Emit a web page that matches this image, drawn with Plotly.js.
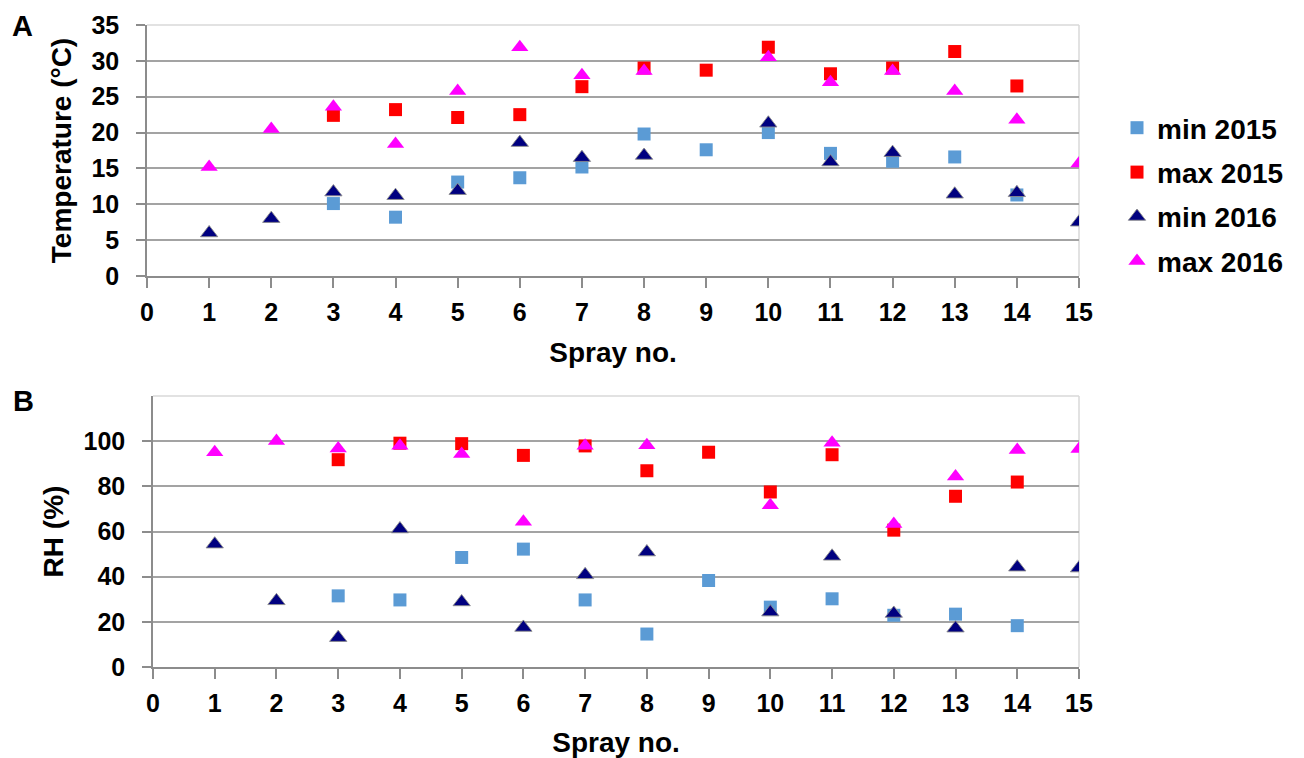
<!DOCTYPE html>
<html>
<head>
<meta charset="utf-8">
<script src="https://cdn.plot.ly/plotly-3.0.1.min.js"></script>
<style>html,body{margin:0;padding:0;background:#fff;}#chart{width:1304px;height:758px;}</style>
</head>
<body>
<div id="chart"></div>
<script>
// Spray numbers
const spray2015 = [3, 4, 5, 6, 7, 8, 9, 10, 11, 12, 13, 14];
const spray2016 = [1, 2, 3, 4, 5, 6, 7, 8, 10, 11, 12, 13, 14, 15];

// Panel A: temperature (°C)
const tempMin2015 = [10.1, 8.2, 13.1, 13.7, 15.2, 19.8, 17.6, 20.0, 17.1, 16.0, 16.6, 11.3];
const tempMax2015 = [22.4, 23.2, 22.1, 22.5, 26.4, 29.0, 28.7, 31.9, 28.2, 29.0, 31.3, 26.5];
const tempMin2016 = [6.0, 8.0, 11.7, 11.2, 11.9, 18.6, 16.5, 16.8, 21.3, 15.9, 17.2, 11.4, 11.6, 7.5];
const tempMax2016 = [15.2, 20.5, 23.6, 18.4, 25.8, 31.9, 28.0, 28.6, 30.5, 27.0, 28.6, 25.8, 21.8, 15.7];

// Panel B: relative humidity (%)
const rhMin2015 = [31.5, 29.7, 48.5, 52.2, 29.7, 14.6, 38.3, 26.5, 30.2, 22.9, 23.4, 18.3];
const rhMax2015 = [91.8, 99.1, 98.9, 93.7, 97.9, 86.9, 95.1, 77.5, 94.0, 60.6, 75.6, 81.9];
const rhMin2016 = [54.4, 29.3, 13.0, 61.1, 28.8, 17.5, 40.8, 50.9, 24.3, 49.0, 23.7, 17.2, 44.2, 43.8];
const rhMax2016 = [95.1, 100.1, 96.8, 98.0, 94.3, 64.3, 98.0, 98.2, 71.6, 99.3, 63.3, 84.3, 96.1, 96.5];

const seriesNames = ["min 2015", "max 2015", "min 2016", "max 2016"];
const xTicks = [0,1,2,3,4,5,6,7,8,9,10,11,12,13,14,15];
const tempTicks = [0,5,10,15,20,25,30,35];
const rhTicks = [0,20,40,60,80,100];

const FONT = "Liberation Sans, Arial, Helvetica, sans-serif";
const styles = [
  {symbol: "square", size: 13, color: "#5B9BD5", line: {width: 0}},
  {symbol: "square", size: 13, color: "#FF0000", line: {width: 0}},
  {symbol: "triangle-up", size: 15, color: "#000080", line: {width: 1, color: "rgba(140,140,140,0.9)"}},
  {symbol: "triangle-up", size: 15, color: "#FF00FF", line: {width: 0}}
];

const topData = [[spray2015, tempMin2015], [spray2015, tempMax2015], [spray2016, tempMin2016], [spray2016, tempMax2016]];
const botData = [[spray2015, rhMin2015], [spray2015, rhMax2015], [spray2016, rhMin2016], [spray2016, rhMax2016]];

const traces = [];
topData.forEach((d, i) => {
  traces.push({x: d[0], y: d[1], type: "scatter", mode: "markers", name: seriesNames[i],
    legendgroup: "g" + i, xaxis: "x", yaxis: "y", marker: styles[i], hoverinfo: "x+y+name"});
});
botData.forEach((d, i) => {
  traces.push({x: d[0], y: d[1], type: "scatter", mode: "markers", name: seriesNames[i],
    legendgroup: "g" + i, showlegend: false, xaxis: "x2", yaxis: "y2", marker: styles[i], hoverinfo: "x+y+name"});
});

const W = 1304, H = 758;
const tickFont = {family: FONT, size: 25, color: "#000", weight: "bold"};
const titleFont = {family: FONT, size: 28, color: "#000", weight: "bold"};
const gridCol = "#a3a3a3", axisCol = "#8c8c8c", borderCol = "#d9d9d9";

function xAxis(domain, standoff) {
  return {domain: domain, range: [0, 15], tickvals: xTicks, ticktext: xTicks.map(String),
    showgrid: false, zeroline: false, showline: true, linecolor: axisCol, linewidth: 1.5,
    ticks: "outside", ticklen: 10, tickwidth: 1.5, tickcolor: axisCol, tickfont: tickFont,
    ticklabelstandoff: 3,
    title: {text: "Spray no.", font: titleFont, standoff: standoff}, fixedrange: true};
}
function yAxis(domain, range, ticks, title) {
  return {domain: domain, range: range, tickvals: ticks, ticktext: ticks.map(String),
    showgrid: true, gridcolor: gridCol, gridwidth: 1.5, zeroline: false,
    showline: true, linecolor: axisCol, linewidth: 1.5,
    ticks: "outside", ticklen: 9, tickwidth: 1.5, tickcolor: axisCol, tickfont: tickFont,
    ticklabelstandoff: 12,
    title: {text: title, font: titleFont, standoff: 12}, fixedrange: true};
}

const layout = {
  width: W, height: H,
  margin: {l: 0, r: 0, t: 0, b: 0},
  paper_bgcolor: "#fff", plot_bgcolor: "#fff",
  xaxis: Object.assign(xAxis([147 / W, 1079 / W], 18), {anchor: "y"}),
  yaxis: Object.assign(yAxis([1 - 276 / H, 1 - 25 / H], [0, 35], tempTicks, "Temperature (°C)"), {anchor: "x"}),
  xaxis2: Object.assign(xAxis([153 / W, 1079 / W], 25), {anchor: "y2"}),
  yaxis2: Object.assign(yAxis([1 - 667 / H, 1 - 396 / H], [0, 120], rhTicks, "RH (%)"), {anchor: "x2"}),
  showlegend: true,
  legend: {x: 1117 / W, y: 1 - 103 / H, xanchor: "left", yanchor: "top",
    font: {family: FONT, size: 28, color: "#000", weight: "bold"},
    tracegroupgap: 5, bgcolor: "rgba(0,0,0,0)", itemclick: false, itemdoubleclick: false},
  shapes: [
    {type: "line", xref: "x domain", yref: "y domain", x0: 0, x1: 1, y0: 1, y1: 1, line: {color: borderCol, width: 1.5}, layer: "above"},
    {type: "line", xref: "x domain", yref: "y domain", x0: 1, x1: 1, y0: 0, y1: 1, line: {color: borderCol, width: 1.5}, layer: "below"},
    {type: "line", xref: "x2 domain", yref: "y2 domain", x0: 0, x1: 1, y0: 1, y1: 1, line: {color: borderCol, width: 1.5}, layer: "above"},
    {type: "line", xref: "x2 domain", yref: "y2 domain", x0: 1, x1: 1, y0: 0, y1: 1, line: {color: borderCol, width: 1.5}, layer: "below"}
  ],
  annotations: [
    {text: "A", x: 22 / W, y: 1 - 26 / H, xref: "paper", yref: "paper", showarrow: false,
      font: {family: FONT, size: 29, color: "#000", weight: "bold"}, xanchor: "center", yanchor: "middle"},
    {text: "B", x: 23 / W, y: 1 - 401 / H, xref: "paper", yref: "paper", showarrow: false,
      font: {family: FONT, size: 29, color: "#000", weight: "bold"}, xanchor: "center", yanchor: "middle"}
  ]
};

Plotly.newPlot("chart", traces, layout, {displayModeBar: false, staticPlot: false, responsive: false});
</script>
</body>
</html>
